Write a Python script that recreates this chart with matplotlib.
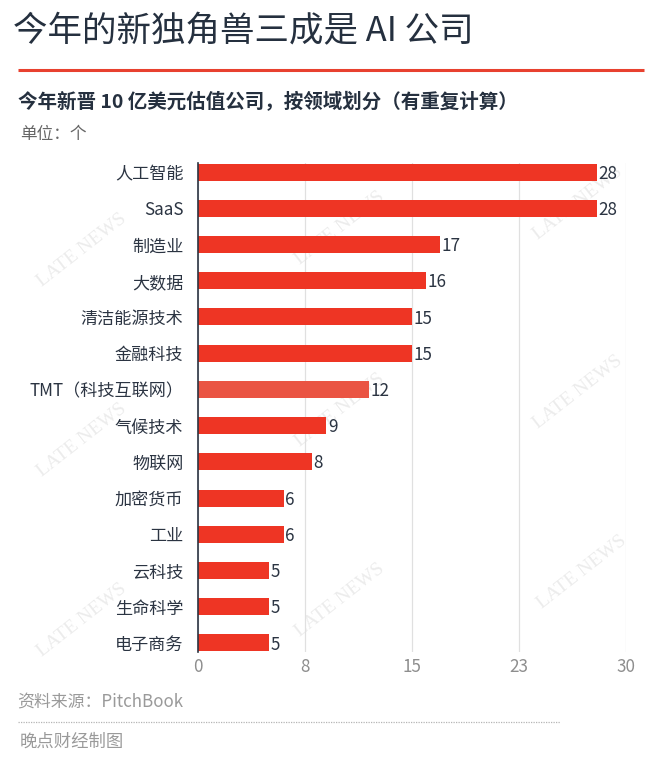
import matplotlib
matplotlib.use("Agg")
import matplotlib.pyplot as plt

plt.rcParams['font.family'] = ['Noto Sans CJK SC', 'DejaVu Sans']

categories = ["人工智能", "SaaS", "制造业", "大数据", "清洁能源技术", "金融科技",
              "TMT（科技互联网）", "气候技术", "物联网", "加密货币", "工业", "云科技",
              "生命科学", "电子商务"]
values = [28, 28, 17, 16, 15, 15, 12, 9, 8, 6, 6, 5, 5, 5]
tick_values = [0, 7.5, 15, 22.5, 30]
tick_labels = ["0", "8", "15", "23", "30"]
watermarks = [(82, 250), (340, 228), (578, 203), (340, 410), (578, 392),
              (82, 440), (82, 620), (340, 600), (582, 572)]

W, H = 660, 761
fig = plt.figure(figsize=(W/100, H/100), dpi=100, facecolor="white")

def fx(x): return x/W
def fy(y): return 1-y/H

DARK = "#2b3442"
RED = "#ee3524"

for (x, y) in watermarks:
    fig.text(fx(x), fy(y), "LATE NEWS", rotation=38, ha="center", va="center",
             fontsize=14, family="Liberation Serif", color="#ececec", zorder=-1)

ax = fig.add_axes([fx(198), fy(652), fx(625.5-198), (652-163)/H])
ax.patch.set_alpha(0)
positions = list(range(len(values)))
colors = [RED]*len(values)
colors[6] = "#ea5443"
ax.barh(positions, values, height=0.47, color=colors, zorder=3)
ax.set_ylim(13.25, -0.25)
ax.set_xlim(0, 30)
ax.set_yticks(positions)
ax.set_yticklabels(categories, fontsize=12.3, color=DARK)
ax.set_xticks(tick_values)
ax.set_xticklabels(tick_labels, fontsize=12.3, color="#8e8e8e")
ax.tick_params(axis="both", length=0)
ax.tick_params(axis="y", pad=10.5)
ax.tick_params(axis="x", pad=4.5)
ax.xaxis.grid(True, color="#e0e0e0", lw=0.9, zorder=0)
ax.set_axisbelow(True)
for s in ["top", "right", "bottom"]:
    ax.spines[s].set_visible(False)
ax.spines["left"].set_color("#2b3442")
ax.spines["left"].set_linewidth(1.2)
ax.spines["left"].set_zorder(5)
for p, v in zip(positions, values):
    ax.annotate(str(v), (v, p), xytext=(1.2, -1.2), textcoords="offset points",
                va="center", ha="left", fontsize=12.3, color=DARK, zorder=6)

fig.text(fx(13), fy(32), "今年的新独角兽三成是 AI 公司", fontsize=24.8, color="#25303f", va="center")
fig.add_artist(plt.Line2D([fx(18), fx(644)], [fy(70), fy(70)], color="#e8412f", lw=2.2,
                          solid_capstyle="butt"))
fig.text(fx(18), fy(102), "今年新晋 10 亿美元估值公司，按领域划分（有重复计算）", fontsize=14.05, color="#25303f",
         va="center", weight="bold")
fig.text(fx(20), fy(134), "单位：个", fontsize=12, color="#666666", va="center")
fig.text(fx(17), fy(701), "资料来源：PitchBook", fontsize=12.2, color="#9a9a9a", va="center")
fig.add_artist(plt.Line2D([fx(18), fx(560)], [fy(722), fy(722)], color="#b5b5b5", lw=0.9, ls=(0, (1, 1))))
fig.text(fx(20), fy(742), "晚点财经制图", fontsize=12.5, color="#9a9a9a", va="center")

fig.savefig("out.png", dpi=100, facecolor="white")
